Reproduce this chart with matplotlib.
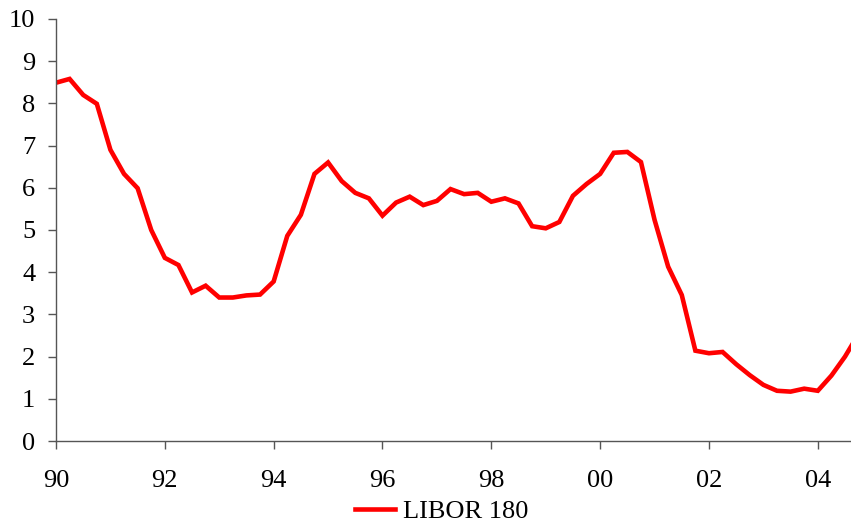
import matplotlib
matplotlib.use("Agg")
import matplotlib.pyplot as plt

# 180-day LIBOR, quarterly, 1990Q1 - 2004Q4 (percent)
quarters = [1990 + 0.25 * i for i in range(60)]
libor_180 = [
    8.49, 8.58, 8.20, 7.99, 6.90, 6.33, 5.99, 5.00,
    4.34, 4.17, 3.52, 3.68, 3.40, 3.40, 3.45, 3.47,
    3.78, 4.86, 5.36, 6.33, 6.60, 6.16, 5.88, 5.75,
    5.34, 5.65, 5.79, 5.59, 5.69, 5.97, 5.85, 5.88,
    5.67, 5.75, 5.63, 5.09, 5.04, 5.19, 5.81, 6.09,
    6.33, 6.83, 6.85, 6.61, 5.24, 4.13, 3.46, 2.14,
    2.08, 2.11, 1.82, 1.56, 1.33, 1.19, 1.17, 1.24,
    1.19, 1.55, 2.00, 2.54,
]
year_ticks = [1990, 1992, 1994, 1996, 1998, 2000, 2002, 2004]
year_labels = ["%02d" % (y % 100) for y in year_ticks]

plt.rcParams["font.family"] = ["Liberation Serif", "DejaVu Serif"]

fig = plt.figure(figsize=(8.51, 5.25), dpi=100)
ax = fig.add_axes([56 / 851, 84 / 525, 795 / 851, 422 / 525])

ax.plot(quarters, libor_180, color="#ff0000", lw=3.3, label="LIBOR 180",
        solid_joinstyle="miter")

ax.set_xlim(1990, 2004.61)
ax.set_ylim(0, 10)
ax.set_yticks(range(0, 11))
ax.set_xticks(year_ticks)
ax.set_xticklabels(year_labels)

for side in ["top", "right"]:
    ax.spines[side].set_visible(False)
for side in ["left", "bottom"]:
    ax.spines[side].set_color("#555555")
    ax.spines[side].set_linewidth(1.0)

ax.tick_params(axis="both", direction="out", length=6, width=1.0,
               color="#555555", labelsize=19, labelcolor="black")
ax.tick_params(axis="y", pad=9)
ax.tick_params(axis="x", pad=15)

fig.legend(loc="center", bbox_to_anchor=(0.519, 14 / 525), frameon=False,
           fontsize=19, handlelength=1.5, handletextpad=0.3, borderpad=0)

fig.savefig("out.png", dpi=100)
